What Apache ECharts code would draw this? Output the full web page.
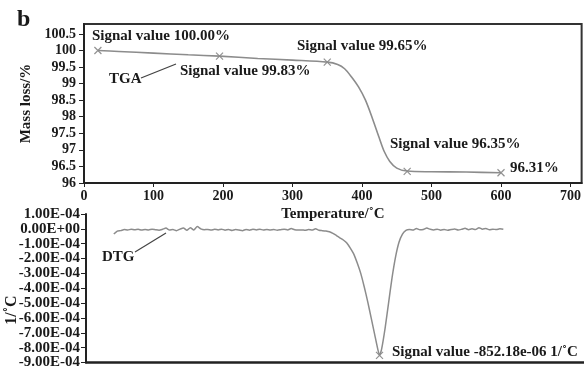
<!DOCTYPE html>
<html>
<head>
<meta charset="utf-8">
<script src="https://cdn.jsdelivr.net/npm/echarts@6/dist/echarts.min.js"></script>
<style>
    html, body { margin: 0; padding: 0; background: #fff; }
    #chart { width: 584px; height: 370px; }
</style>
</head>
<body>
<div id="chart"></div>
<script>
// TGA curve (temperature in degC, mass in %)
const tgaTemp = [20, 50, 100, 150, 195, 250, 300, 350, 365, 375, 385, 395, 405, 415, 425, 432, 440, 450, 465, 500, 550, 600];
const tgaMass = [100.00, 99.97, 99.92, 99.87, 99.83, 99.76, 99.71, 99.65, 99.58, 99.45, 99.2, 98.9, 98.5, 97.95, 97.35, 96.95, 96.65, 96.45, 96.36, 96.34, 96.33, 96.31];
const tgaMarkTemp = [20, 195, 350, 465, 600];
const tgaMarkMass = [100.00, 99.83, 99.65, 96.35, 96.31];

// DTG curve, values in units of 1E-04 1/degC
const dtgTemp = [40, 45, 50, 55, 60, 65, 70, 75, 80, 85, 90, 95, 100, 105, 110, 115, 120, 125, 130, 135,
    140, 145, 150, 155, 160, 165, 170, 175, 180, 185, 190, 195, 200, 205, 210, 215, 220, 225, 230, 235,
    240, 245, 250, 255, 260, 265, 270, 275, 280, 285, 290, 295, 300, 305, 310, 315, 320, 325, 330, 335,
    340, 345, 350, 355, 360, 365, 370, 375, 380, 385, 390, 395, 400, 405, 410, 415, 420, 422, 425, 430,
    435, 440, 445, 450, 455, 460, 465, 470, 475, 480, 485, 490, 495, 500, 505, 510, 515, 520, 525, 530,
    535, 540, 545, 550, 555, 560, 565, 570, 575, 580, 585, 590, 595, 600];
const dtgValue = [-0.35, -0.15, -0.12, -0.05, -0.08, -0.02, -0.06, -0.03, -0.08, -0.04, -0.07, -0.02, -0.06, -0.09, -0.03, 0.05, -0.08, -0.05, -0.12, -0.02,
    0.06, -0.10, 0.08, -0.08, 0.15, 0.0, -0.06, -0.04, -0.08, -0.03, -0.07, -0.02, -0.09, -0.04, -0.11, -0.05, -0.08, -0.12, -0.04, -0.09,
    -0.03, -0.07, -0.02, -0.08, -0.04, -0.07, -0.05, -0.09, -0.06, -0.03, -0.07, 0.02, -0.06, -0.08, -0.07, -0.10, -0.05, -0.08, 0.0, -0.10,
    -0.12, -0.15, -0.2, -0.3, -0.45, -0.6, -0.75, -0.95, -1.3, -1.7, -2.3, -3.0, -3.9, -4.9, -6.0, -7.1, -8.2, -8.52, -8.1, -6.7,
    -5.0, -3.3, -1.9, -0.9, -0.35, -0.1, -0.05, -0.08, 0.02, -0.06, -0.04, 0.05, -0.03, -0.07, -0.02, -0.09, -0.04, -0.10, -0.05, -0.01,
    -0.08, -0.03, 0.04, -0.06, 0.0, -0.05, 0.08, -0.02, 0.02, -0.06, -0.02, -0.05, 0.0, -0.03];
const dtgMarkTemp = [422];
const dtgMarkValue = [-8.52];

const serif = '"Liberation Serif", "DejaVu Serif", serif';
const lineGray = '#8c8c8c';
const crossPath = 'path://M0,0L10,10M10,0L0,10';

function zip(xs, ys) {
    return xs.map((x, i) => [x, ys[i]]);
}

function annot(text, x, y, size) {
    return {
        type: 'text', left: x, top: y - (size || 15) / 2 - 1,
        style: { text: text, font: 'bold ' + (size || 15) + 'px ' + serif, fill: '#1a1a1a' }
    };
}

let myChart = echarts.init(document.getElementById('chart'));
let tickLabel = { fontFamily: serif, fontWeight: 'bold', fontSize: 14, color: '#1a1a1a' };

let option = {
    animation: false,
    grid: [
        { left: 84, top: 24, width: 498, height: 159, show: true, borderColor: '#333', borderWidth: 2 },
        { left: 86, top: 214, width: 498, height: 149 }
    ],
    xAxis: [
        {
            gridIndex: 0, type: 'value', min: 0, max: 716, interval: 100,
            name: 'Temperature/˚C', nameLocation: 'middle', nameGap: 24,
            nameTextStyle: { fontFamily: serif, fontWeight: 'bold', fontSize: 15, color: '#1a1a1a' },
            axisLine: { onZero: false, lineStyle: { color: '#222', width: 2 } },
            axisTick: { length: 4, lineStyle: { color: '#222' } },
            axisLabel: Object.assign({ showMaxLabel: false, margin: 6 }, tickLabel),
            splitLine: { show: false }
        },
        {
            gridIndex: 1, type: 'value', min: 0, max: 716,
            axisLine: { onZero: false, lineStyle: { color: '#222', width: 2.5 } },
            axisTick: { show: false },
            axisLabel: { show: false },
            splitLine: { show: false }
        }
    ],
    yAxis: [
        {
            gridIndex: 0, type: 'value', min: 96, max: 100.8, interval: 0.5,
            name: 'Mass loss/%', nameLocation: 'middle', nameGap: 50,
            nameTextStyle: { fontFamily: serif, fontWeight: 'bold', fontSize: 15, color: '#1a1a1a' },
            axisLine: { show: true, onZero: false, lineStyle: { color: '#222', width: 2 } },
            axisTick: { show: true, length: 5, lineStyle: { color: '#222' } },
            axisLabel: Object.assign({ showMaxLabel: false, margin: 8 }, tickLabel),
            splitLine: { show: false }
        },
        {
            gridIndex: 1, type: 'value', min: -9, max: 1, interval: 1,
            axisLine: { show: true, onZero: false, lineStyle: { color: '#222', width: 2 } },
            axisTick: { show: true, length: 5, lineStyle: { color: '#222' } },
            axisLabel: Object.assign({
                margin: 6,
                formatter: v => v === 0 ? '0.00E+00' : v.toFixed(2) + 'E-04'
            }, tickLabel, { fontSize: 15 }),
            splitLine: { show: false }
        }
    ],
    series: [
        {
            type: 'line', xAxisIndex: 0, yAxisIndex: 0, smooth: 0.3, showSymbol: false,
            lineStyle: { color: lineGray, width: 1.6 },
            data: zip(tgaTemp, tgaMass)
        },
        {
            type: 'scatter', xAxisIndex: 0, yAxisIndex: 0, symbol: crossPath, symbolSize: 7,
            itemStyle: { color: 'rgba(0,0,0,0)', borderColor: '#777', borderWidth: 1.2 },
            data: zip(tgaMarkTemp, tgaMarkMass)
        },
        {
            type: 'line', xAxisIndex: 1, yAxisIndex: 1, smooth: 0.2, showSymbol: false,
            lineStyle: { color: lineGray, width: 1.5 },
            data: zip(dtgTemp, dtgValue)
        },
        {
            type: 'scatter', xAxisIndex: 1, yAxisIndex: 1, symbol: crossPath, symbolSize: 7,
            itemStyle: { color: 'rgba(0,0,0,0)', borderColor: '#777', borderWidth: 1.2 },
            data: zip(dtgMarkTemp, dtgMarkValue)
        }
    ],
    graphic: [
        annot('b', 17, 21, 24),
        annot('Signal value 100.00%', 92, 37),
        annot('TGA', 109, 80),
        annot('Signal value 99.83%', 180, 72),
        annot('Signal value 99.65%', 297, 47),
        annot('Signal value 96.35%', 390, 145),
        annot('96.31%', 510, 169),
        annot('DTG', 102, 258),
        annot('Signal value -852.18e-06 1/˚C', 392, 353),
        {
            type: 'line', shape: { x1: 141, y1: 78, x2: 176, y2: 64 },
            style: { stroke: '#444', lineWidth: 1.2 }
        },
        {
            type: 'line', shape: { x1: 135, y1: 252, x2: 166, y2: 233 },
            style: { stroke: '#444', lineWidth: 1.2 }
        },
        {
            type: 'text', x: 12, y: 310, rotation: Math.PI / 2,
            style: {
                text: '1/˚C', font: 'bold 16px ' + serif, fill: '#1a1a1a',
                textAlign: 'center', textVerticalAlign: 'middle'
            }
        }
    ]
};

myChart.setOption(option);
</script>
</body>
</html>
